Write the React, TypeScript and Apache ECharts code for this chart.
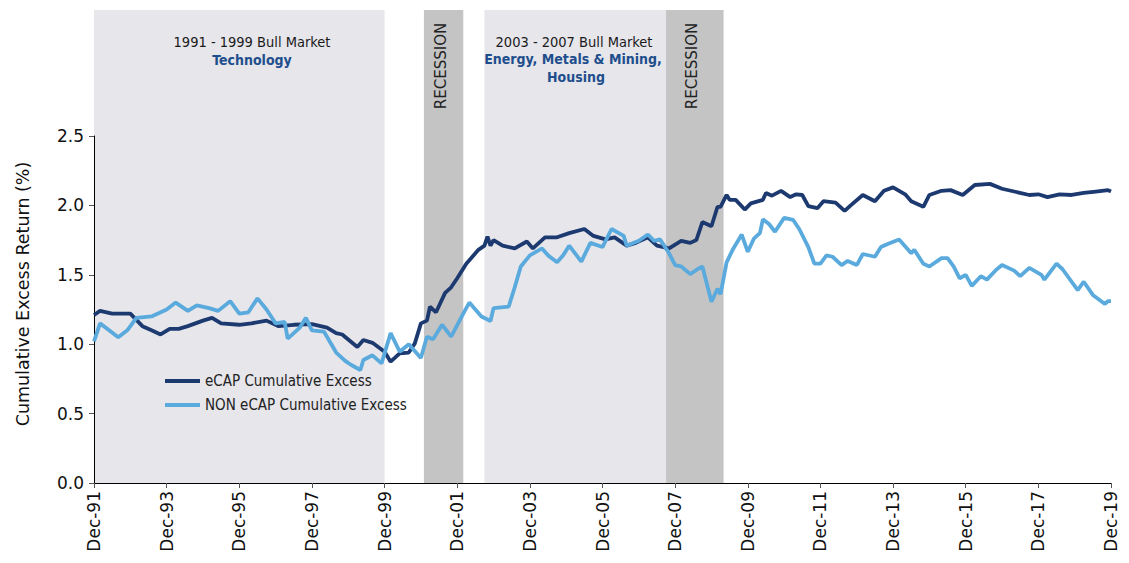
import React, { useEffect, useRef } from "react";
import * as echarts from "echarts";

// Month index counted from Dec-1991 (0) to Dec-2019 (336)
const ecapMonths = [0, 2, 6, 12, 16, 19, 22, 25, 28, 31, 36, 39, 42, 48, 52, 57, 61, 66, 72, 77, 80, 82, 87, 89, 92, 96, 98, 101, 104, 106, 108, 110, 111, 113, 116, 118, 120, 123, 127, 129, 130, 131, 132, 135, 139, 143, 145, 149, 153, 157, 162, 165, 169, 172, 176, 179, 183, 186, 190, 194, 197, 199, 201, 204, 206, 207, 209, 210, 212, 215, 217, 221, 222, 224, 227, 230, 232, 234, 236, 239, 241, 245, 248, 250, 254, 258, 261, 264, 268, 270, 274, 276, 280, 283, 287, 291, 296, 300, 304, 309, 312, 315, 319, 323, 327, 331, 335, 336];
const ecapValues = [1.21, 1.24, 1.22, 1.22, 1.13, 1.1, 1.07, 1.11, 1.11, 1.13, 1.17, 1.19, 1.15, 1.14, 1.15, 1.17, 1.13, 1.14, 1.145, 1.12, 1.08, 1.07, 0.98, 1.03, 1.01, 0.946, 0.874, 0.934, 0.94, 1.006, 1.15, 1.17, 1.27, 1.23, 1.37, 1.41, 1.475, 1.58, 1.68, 1.71, 1.775, 1.71, 1.75, 1.71, 1.69, 1.74, 1.69, 1.77, 1.77, 1.8, 1.83, 1.78, 1.755, 1.77, 1.71, 1.73, 1.77, 1.71, 1.69, 1.745, 1.73, 1.75, 1.88, 1.85, 1.99, 1.99, 2.075, 2.04, 2.04, 1.97, 2.015, 2.04, 2.09, 2.07, 2.105, 2.06, 2.08, 2.075, 1.995, 1.98, 2.03, 2.02, 1.96, 2.0, 2.075, 2.03, 2.105, 2.13, 2.08, 2.03, 1.99, 2.075, 2.105, 2.11, 2.075, 2.147, 2.155, 2.12, 2.1, 2.075, 2.08, 2.06, 2.08, 2.075, 2.09, 2.1, 2.11, 2.1];

const nonMonths = [0, 2, 5, 8, 11, 14, 19, 24, 27, 31, 34, 38, 41, 45, 48, 51, 54, 57, 60, 63, 64, 68, 70, 72, 76, 80, 83, 85, 88, 89, 92, 95, 98, 101, 104, 108, 110, 112, 115, 118, 122, 124, 128, 131, 132, 137, 139, 141, 144, 148, 150, 153, 155, 157, 161, 164, 168, 171, 175, 176, 180, 183, 185, 187, 190, 192, 194, 197, 199, 201, 204, 206, 207, 209, 211, 214, 216, 218, 220, 221, 223, 225, 228, 231, 233, 236, 238, 240, 242, 244, 247, 249, 252, 254, 258, 260, 262, 266, 270, 271, 274, 276, 280, 282, 284, 286, 288, 290, 293, 295, 298, 300, 304, 306, 309, 313, 314, 318, 320, 325, 327, 330, 334, 335, 336];
const nonValues = [1.02, 1.15, 1.1, 1.05, 1.1, 1.19, 1.2, 1.25, 1.3, 1.24, 1.28, 1.26, 1.24, 1.31, 1.22, 1.23, 1.33, 1.25, 1.15, 1.16, 1.04, 1.12, 1.19, 1.1, 1.09, 0.94, 0.88, 0.85, 0.814, 0.886, 0.92, 0.862, 1.08, 0.946, 1.0, 0.9, 1.054, 1.035, 1.14, 1.054, 1.22, 1.3, 1.2, 1.167, 1.26, 1.27, 1.41, 1.56, 1.64, 1.69, 1.64, 1.59, 1.64, 1.71, 1.595, 1.73, 1.7, 1.83, 1.78, 1.71, 1.745, 1.79, 1.745, 1.755, 1.655, 1.57, 1.56, 1.505, 1.535, 1.56, 1.306, 1.4, 1.36, 1.59, 1.68, 1.79, 1.666, 1.76, 1.8, 1.9, 1.866, 1.81, 1.91, 1.895, 1.83, 1.7, 1.58, 1.58, 1.64, 1.63, 1.57, 1.6, 1.57, 1.65, 1.63, 1.7, 1.72, 1.755, 1.655, 1.68, 1.58, 1.56, 1.62, 1.62, 1.56, 1.475, 1.5, 1.42, 1.49, 1.465, 1.535, 1.57, 1.53, 1.49, 1.55, 1.5, 1.465, 1.58, 1.54, 1.39, 1.45, 1.355, 1.29, 1.31, 1.31];

const seriesNames = ["eCAP Cumulative Excess", "NON eCAP Cumulative Excess"];
const yAxisTitle = "Cumulative Excess Return (%)";

// Shaded periods (month index)
const bandStarts = [0, 109, 129, 189];
const bandEnds = [96, 122, 189, 208];
const bandKinds = ["bull", "recession", "bull", "recession"];

const FONT = "DejaVu Sans";
const FONT_C = "DejaVu Sans Condensed";
const DARK = "#1D3A70";
const LIGHT = "#5AAADD";

export default function App() {
  const ref = useRef<HTMLDivElement>(null);

  useEffect(() => {
    document.body.style.margin = "0";
    const chart = echarts.init(ref.current!, null, { renderer: "svg" });
    const option: any = {
      animation: false,
      grid: { left: 94, right: 18, top: 136, bottom: 80, containLabel: false },
      legend: {
        data: seriesNames.map((n) => ({ name: n, icon: "rect" })),
        orient: "vertical",
        left: 160,
        top: 368,
        itemWidth: 35,
        itemHeight: 4,
        itemGap: 8,
        textStyle: { fontFamily: FONT_C, fontSize: 15, color: "#222", lineHeight: 16 },
      },
      xAxis: {
        type: "value",
        min: 0,
        max: 336,
        interval: 24,
        axisLine: { lineStyle: { color: "#000", width: 1 } },
        axisTick: { show: true, length: 5, lineStyle: { color: "#555" } },
        splitLine: { show: false },
        axisLabel: {
          rotate: 90,
          fontFamily: FONT,
          fontSize: 17,
          color: "#111",
          margin: 8,
          formatter: (v: number) => {
            const yr = Math.round(91 + v / 12) % 100;
            return "Dec-" + String(yr).padStart(2, "0");
          },
        },
      },
      yAxis: {
        type: "value",
        min: 0,
        max: 2.5,
        interval: 0.5,
        axisLine: { show: true, lineStyle: { color: "#000", width: 1 } },
        axisTick: { show: true, length: 5, lineStyle: { color: "#555" } },
        splitLine: { show: false },
        axisLabel: {
          fontFamily: FONT,
          fontSize: 17,
          color: "#111",
          margin: 10,
          formatter: (v: number) => v.toFixed(1),
        },
      },
      series: [
        {
          name: seriesNames[0],
          type: "line",
          symbol: "none",
          showSymbol: false,
          lineStyle: { color: DARK, width: 3.8 },
          itemStyle: { color: DARK },
          data: ecapMonths.map((m, i) => [m, ecapValues[i]]),
        },
        {
          name: seriesNames[1],
          type: "line",
          symbol: "none",
          showSymbol: false,
          lineStyle: { color: LIGHT, width: 3.8 },
          itemStyle: { color: LIGHT },
          data: nonMonths.map((m, i) => [m, nonValues[i]]),
        },
      ],
    };
    chart.setOption(option);

    const y0 = chart.convertToPixel({ yAxisIndex: 0 }, 0) as number;
    const top = 10;
    const rects = bandStarts.map((s, i) => {
      const x1 = chart.convertToPixel({ xAxisIndex: 0 }, s) as number;
      const x2 = chart.convertToPixel({ xAxisIndex: 0 }, bandEnds[i]) as number;
      return {
        type: "rect",
        z: -5,
        silent: true,
        shape: { x: x1, y: top, width: x2 - x1, height: y0 - top },
        style: { fill: bandKinds[i] === "bull" ? "#E6E6EB" : "#C4C4C4" },
      };
    });
    const recCenters = bandStarts
      .map((s, i) => ({ s, e: bandEnds[i], k: bandKinds[i] }))
      .filter((b) => b.k === "recession")
      .map((b) => {
        const x1 = chart.convertToPixel({ xAxisIndex: 0 }, b.s) as number;
        const x2 = chart.convertToPixel({ xAxisIndex: 0 }, b.e) as number;
        return (x1 + x2) / 2;
      });
    const dark = "#1a1a1a";
    const blue = "#1F4E8C";
    const txt = (x: number, y: number, text: string, color: string, bold = false) => ({
      type: "text",
      z: 10,
      silent: true,
      x,
      y,
      style: {
        text,
        fill: color,
        font: `${bold ? "bold 14px" : "14.5px"} "${FONT_C}"`,
        textAlign: "center",
        textVerticalAlign: "middle",
      },
    });
    const texts = [
      txt(252, 42, "1991 - 1999 Bull Market", dark),
      txt(252, 60, "Technology", blue, true),
      txt(574, 42, "2003 - 2007 Bull Market", dark),
      txt(573, 59, "Energy, Metals & Mining,", blue, true),
      txt(576, 77, "Housing", blue, true),
      ...recCenters.map((cx) => ({
        type: "text",
        z: 10,
        silent: true,
        x: cx - 3,
        y: 66,
        rotation: Math.PI / 2,
        style: {
          text: "RECESSION",
          fill: "#222",
          font: `15px "${FONT}"`,
          textAlign: "center",
          textVerticalAlign: "middle",
        },
      })),
      {
        type: "text",
        z: 10,
        silent: true,
        x: 23,
        y: 294,
        rotation: Math.PI / 2,
        style: {
          text: yAxisTitle,
          fill: "#111",
          font: `17.5px "${FONT}"`,
          textAlign: "center",
          textVerticalAlign: "middle",
        },
      },
    ];
    chart.setOption({ graphic: [...rects, ...texts] });

    return () => chart.dispose();
  }, []);

  return <div ref={ref} style={{ width: 1129, height: 563 }} />;
}
